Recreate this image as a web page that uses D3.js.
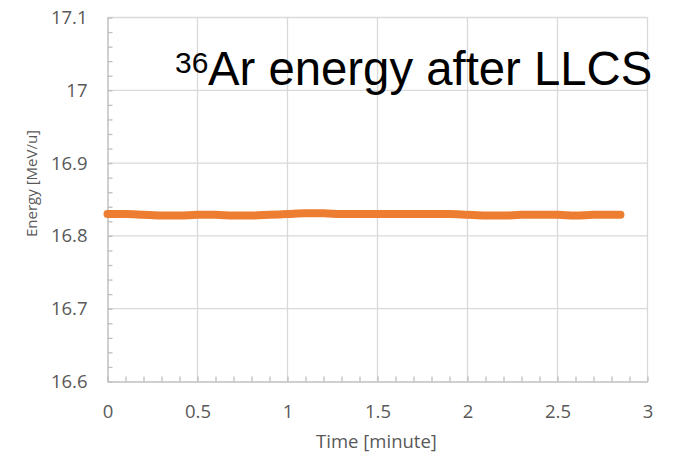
<!DOCTYPE html>
<html>
<head>
<meta charset="utf-8">
<script src="https://cdn.jsdelivr.net/npm/d3@7"></script>
<style>
  body { margin: 0; background: #fff; }
  .tick text { font-family: "Open Sans", sans-serif; font-size: 18.5px; fill: #595959; }
</style>
</head>
<body>
<script>
// energy of 36Ar beam after LLCS
var timeMin = [0, 0.1, 0.2, 0.3, 0.4, 0.5, 0.6, 0.7, 0.8, 0.9, 1.0, 1.1, 1.2, 1.3, 1.4,
  1.5, 1.6, 1.7, 1.8, 1.9, 2.0, 2.1, 2.2, 2.3, 2.4, 2.5, 2.6, 2.7, 2.8, 2.85];
var energy = [16.830, 16.830, 16.829, 16.828, 16.828, 16.829, 16.829, 16.828, 16.828, 16.829,
  16.830, 16.831, 16.831, 16.830, 16.830, 16.830, 16.830, 16.830, 16.830, 16.830,
  16.829, 16.828, 16.828, 16.829, 16.829, 16.829, 16.828, 16.829, 16.829, 16.829];
var xTicks = [0, 0.5, 1, 1.5, 2, 2.5, 3];
var yTicks = [16.6, 16.7, 16.8, 16.9, 17, 17.1];

var W = 673, H = 454;
var svg = d3.select("body").append("svg").attr("width", W).attr("height", H);

var x = d3.scaleLinear().domain([0, 3]).range([107.5, 647.5]);
var y = d3.scaleLinear().domain([16.6, 17.1]).range([381.5, 17.5]);

// grid
svg.append("g").selectAll("line").data(xTicks.slice(1)).join("line")
  .attr("x1", d => x(d)).attr("x2", d => x(d))
  .attr("y1", y(16.6)).attr("y2", y(17.1))
  .attr("stroke", "#d9d9d9").attr("stroke-width", 1.3);
svg.append("g").selectAll("line").data(yTicks.slice(1)).join("line")
  .attr("x1", x(0)).attr("x2", x(3))
  .attr("y1", d => y(d)).attr("y2", d => y(d))
  .attr("stroke", "#d9d9d9").attr("stroke-width", 1.3);

// axes
var xAxis = svg.append("g").attr("transform", "translate(0," + y(16.6) + ")")
  .call(d3.axisBottom(x).tickValues(xTicks).tickSize(0).tickPadding(23)
    .tickFormat(d3.format("~g")));
var yAxis = svg.append("g").attr("transform", "translate(" + x(0) + ",0)")
  .call(d3.axisLeft(y).tickValues(yTicks).tickSize(0).tickPadding(20)
    .tickFormat(d3.format("~g")));
[xAxis, yAxis].forEach(a => a.select(".domain").attr("stroke", "#bfbfbf").attr("stroke-width", 1.5));

// minor ticks pointing into the plot
svg.append("g").call(d3.axisTop(x).ticks(30).tickSize(5).tickFormat(""))
  .attr("transform", "translate(0," + y(16.6) + ")")
  .call(g => g.select(".domain").remove())
  .selectAll("line").attr("stroke", "#bfbfbf").attr("stroke-width", 1.3);
svg.append("g").call(d3.axisRight(y).ticks(25).tickSize(5).tickFormat(""))
  .attr("transform", "translate(" + x(0) + ",0)")
  .call(g => g.select(".domain").remove())
  .selectAll("line").attr("stroke", "#bfbfbf").attr("stroke-width", 1.3);

// axis titles
svg.append("text").attr("x", x(1.5) - 1).attr("y", 448)
  .attr("text-anchor", "middle")
  .style("font-family", "Open Sans").style("font-size", "18.5px").style("fill", "#595959")
  .text("Time [minute]");
svg.append("text").attr("transform", "translate(37,183.5) rotate(-90)")
  .attr("text-anchor", "middle")
  .style("font-family", "Open Sans").style("font-size", "15px").style("fill", "#595959")
  .text("Energy [MeV/u]");

// data line
var pts = timeMin.map((t, i) => [t, energy[i]]);
svg.append("path").datum(pts)
  .attr("fill", "none").attr("stroke", "#ed7d31").attr("stroke-width", 8)
  .attr("stroke-linecap", "round").attr("stroke-linejoin", "round")
  .attr("d", d3.line().x(d => x(d[0])).y(d => y(d[1])).curve(d3.curveMonotoneX));

// title
var title = svg.append("text").style("font-family", "Liberation Sans, Arial, sans-serif").style("fill", "#000");
title.append("tspan").attr("x", 175).attr("y", 72.7).style("font-size", "30px").text("36");
title.append("tspan").attr("x", 208).attr("y", 85).style("font-size", "47.3px").text("Ar energy after LLCS");
</script>
</body>
</html>
